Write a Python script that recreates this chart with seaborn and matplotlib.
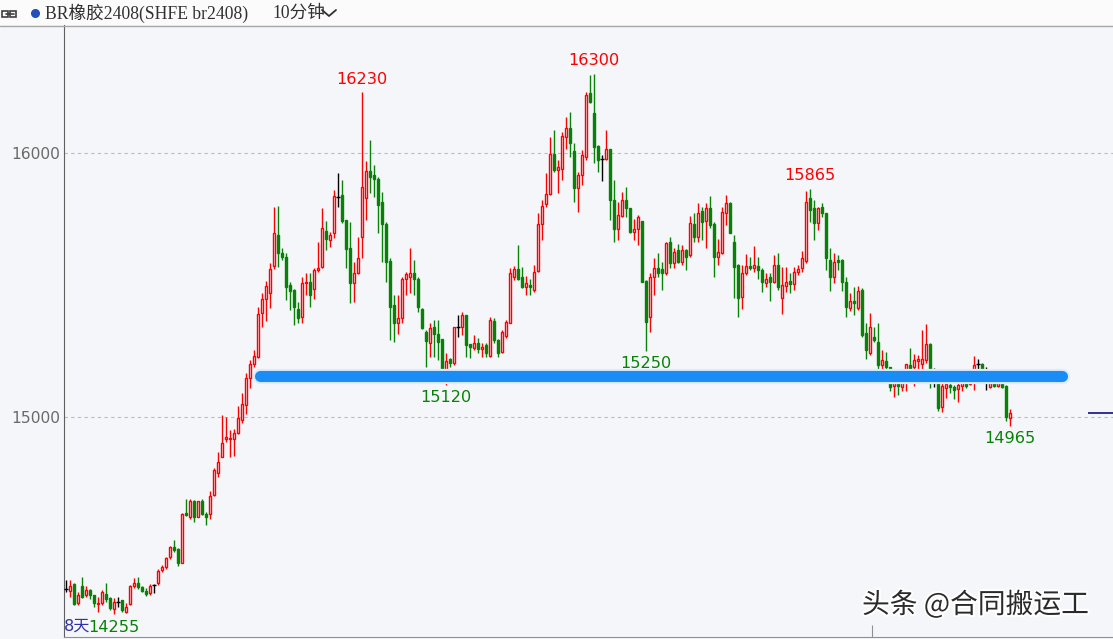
import numpy as np
import pandas as pd
import matplotlib.pyplot as plt
import matplotlib.patheffects as pe
from matplotlib.patches import Rectangle, FancyBboxPatch
from matplotlib.lines import Line2D
import seaborn as sns

# 10-minute candles, BR rubber 2408
opens = [14350, 14342, 14367, 14295, 14358, 14326, 14345, 14326, 14292, 14295,
         14330, 14313, 14272, 14300, 14307, 14263, 14292, 14358, 14373, 14355,
         14341, 14335, 14364, 14370, 14421, 14431, 14469, 14507, 14499, 14448,
         14638, 14620, 14683, 14623, 14683, 14633, 14633, 14705, 14789, 14850,
         14916, 14916, 14918, 14938, 14989, 15046, 15147, 15201, 15228, 15395,
         15446, 15468, 15572, 15688, 15622, 15607, 15500, 15481, 15408, 15380,
         15506, 15513, 15484, 15557, 15569, 15706, 15670, 15696, 15834, 15841,
         15746, 15639, 15506, 15547, 15680, 15828, 15933, 15917, 15900, 15816,
         15731, 15592, 15424, 15357, 15374, 15524, 15531, 15547, 15521, 15408,
         15323, 15279, 15340, 15314, 15294, 15171, 15218, 15203, 15340, 15342,
         15386, 15276, 15260, 15281, 15256, 15272, 15231, 15365, 15291, 15247,
         15307, 15357, 15529, 15559, 15531, 15491, 15500, 15481, 15554, 15731,
         15807, 15844, 15998, 15935, 15938, 16062, 16093, 16009, 15866, 15916,
         15986, 16226, 16150, 16026, 15976, 15976, 16014, 15822, 15714, 15761,
         15822, 15790, 15702, 15711, 15742, 15516, 15380, 15531, 15563, 15559,
         15544, 15664, 15585, 15633, 15588, 15633, 15614, 15731, 15683, 15782,
         15744, 15790, 15731, 15607, 15622, 15774, 15812, 15664, 15576, 15453,
         15544, 15572, 15563, 15572, 15557, 15506, 15529, 15513, 15576, 15450,
         15496, 15516, 15504, 15550, 15563, 15592, 15828, 15790, 15734, 15794,
         15771, 15595, 15532, 15595, 15595, 15513, 15412, 15441, 15412, 15481,
         15317, 15241, 15302, 15285, 15197, 15213, 15188, 15117, 15134, 15115,
         15134, 15197, 15191, 15213, 15201, 15216, 15277, 15166, 15153, 15039,
         15109, 15121, 15112, 15105, 15117, 15134, 15125, 15172, 15201, 15201,
         15165, 15115, 15138, 15117, 15138, 15117, 14995]
highs = [14383, 14383, 14370, 14339, 14393, 14358, 14348, 14326, 14320, 14345,
         14373, 14320, 14313, 14320, 14307, 14295, 14364, 14389, 14393, 14360,
         14351, 14367, 14368, 14423, 14440, 14471, 14512, 14534, 14503, 14638,
         14688, 14688, 14686, 14683, 14688, 14642, 14718, 14806, 14869, 15008,
         14999, 14951, 14954, 15042, 15090, 15166, 15216, 15254, 15418, 15471,
         15516, 15582, 15797, 15799, 15639, 15620, 15513, 15484, 15437, 15531,
         15544, 15547, 15563, 15664, 15790, 15744, 15702, 15860, 15925, 15898,
         15746, 15740, 15588, 15680, 16230, 15971, 16049, 15954, 15910, 15853,
         15740, 15601, 15462, 15462, 15531, 15550, 15639, 15595, 15531, 15412,
         15329, 15355, 15367, 15367, 15294, 15244, 15222, 15342, 15386, 15399,
         15388, 15278, 15310, 15298, 15279, 15279, 15377, 15374, 15294, 15329,
         15367, 15563, 15572, 15651, 15569, 15534, 15521, 15575, 15771, 15822,
         15923, 16062, 16087, 15973, 16081, 16137, 16156, 16036, 15929, 16011,
         16232, 16295, 16300, 16030, 15992, 16089, 16014, 15897, 15815, 15853,
         15870, 15790, 15749, 15765, 15742, 15519, 15544, 15601, 15620, 15588,
         15664, 15683, 15639, 15655, 15652, 15635, 15761, 15771, 15809, 15797,
         15809, 15837, 15740, 15673, 15797, 15841, 15816, 15689, 15580, 15576,
         15617, 15607, 15648, 15607, 15563, 15544, 15544, 15614, 15620, 15569,
         15569, 15544, 15569, 15576, 15630, 15857, 15865, 15822, 15797, 15812,
         15774, 15639, 15620, 15614, 15597, 15529, 15468, 15494, 15496, 15487,
         15355, 15393, 15342, 15355, 15254, 15247, 15191, 15172, 15153, 15172,
         15201, 15260, 15239, 15235, 15329, 15352, 15279, 15184, 15155, 15128,
         15138, 15146, 15121, 15140, 15146, 15140, 15153, 15231, 15218, 15203,
         15191, 15146, 15143, 15146, 15175, 15120, 15029]
lows = [14339, 14320, 14288, 14288, 14313, 14320, 14310, 14282, 14263, 14288,
        14301, 14269, 14255, 14282, 14263, 14258, 14288, 14351, 14348, 14339,
        14322, 14326, 14335, 14364, 14414, 14423, 14461, 14490, 14436, 14446,
        14625, 14615, 14604, 14620, 14629, 14591, 14615, 14701, 14774, 14847,
        14907, 14850, 14852, 14936, 14976, 15012, 15109, 15188, 15222, 15342,
        15365, 15412, 15559, 15569, 15595, 15443, 15405, 15348, 15355, 15355,
        15462, 15418, 15446, 15550, 15563, 15632, 15645, 15677, 15797, 15733,
        15563, 15433, 15437, 15542, 15601, 15746, 15847, 15834, 15696, 15588,
        15513, 15292, 15285, 15314, 15355, 15462, 15468, 15462, 15399, 15332,
        15188, 15228, 15226, 15216, 15140, 15120, 15190, 15197, 15304, 15310,
        15228, 15222, 15254, 15241, 15228, 15226, 15228, 15281, 15228, 15241,
        15298, 15355, 15519, 15519, 15487, 15462, 15462, 15475, 15550, 15670,
        15797, 15841, 15929, 15847, 15897, 16017, 15986, 15815, 15778, 15879,
        15973, 16188, 15961, 15929, 15895, 15973, 15746, 15664, 15670, 15759,
        15759, 15696, 15670, 15651, 15512, 15250, 15323, 15462, 15531, 15481,
        15538, 15563, 15563, 15582, 15576, 15557, 15607, 15664, 15664, 15670,
        15639, 15715, 15532, 15576, 15617, 15727, 15696, 15450, 15380, 15408,
        15538, 15557, 15550, 15521, 15475, 15494, 15441, 15509, 15481, 15390,
        15475, 15471, 15481, 15538, 15550, 15585, 15740, 15670, 15708, 15759,
        15557, 15479, 15509, 15557, 15479, 15380, 15403, 15386, 15405, 15304,
        15218, 15235, 15285, 15178, 15176, 15172, 15100, 15077, 15083, 15100,
        15100, 15159, 15117, 15159, 15178, 15203, 15109, 15115, 15024, 15020,
        15071, 15090, 15067, 15058, 15100, 15109, 15121, 15102, 15178, 15128,
        15102, 15109, 15115, 15115, 15110, 14985, 14965]
closes = [14350, 14358, 14292, 14326, 14320, 14345, 14326, 14295, 14295, 14336,
          14310, 14276, 14301, 14300, 14269, 14282, 14358, 14373, 14355, 14342,
          14328, 14360, 14364, 14418, 14431, 14465, 14507, 14497, 14448, 14633,
          14630, 14683, 14623, 14681, 14633, 14623, 14701, 14800, 14829, 14903,
          14923, 14919, 14938, 14995, 15050, 15147, 15201, 15231, 15389, 15446,
          15496, 15559, 15696, 15622, 15607, 15494, 15478, 15418, 15374, 15506,
          15509, 15462, 15557, 15566, 15715, 15673, 15688, 15837, 15834, 15744,
          15635, 15506, 15547, 15601, 15872, 15933, 15910, 15900, 15803, 15731,
          15588, 15418, 15357, 15374, 15521, 15542, 15547, 15521, 15415, 15336,
          15289, 15336, 15314, 15285, 15165, 15213, 15203, 15340, 15340, 15386,
          15273, 15264, 15281, 15256, 15266, 15241, 15367, 15291, 15243, 15323,
          15361, 15544, 15559, 15521, 15491, 15509, 15491, 15550, 15731, 15799,
          15844, 15996, 15935, 15948, 16064, 16093, 16036, 15866, 15916, 15992,
          16219, 16194, 16024, 15973, 15976, 16014, 15822, 15714, 15765, 15822,
          15790, 15702, 15714, 15759, 15512, 15361, 15531, 15563, 15547, 15544,
          15660, 15585, 15626, 15588, 15633, 15607, 15734, 15683, 15774, 15740,
          15790, 15727, 15607, 15626, 15778, 15809, 15698, 15569, 15450, 15544,
          15572, 15563, 15576, 15557, 15513, 15524, 15513, 15576, 15491, 15500,
          15513, 15504, 15551, 15559, 15601, 15816, 15784, 15734, 15790, 15771,
          15601, 15532, 15588, 15588, 15513, 15418, 15441, 15433, 15479, 15311,
          15254, 15342, 15292, 15197, 15216, 15188, 15115, 15134, 15117, 15140,
          15201, 15165, 15216, 15218, 15218, 15277, 15172, 15166, 15033, 15117,
          15125, 15112, 15102, 15121, 15134, 15117, 15138, 15197, 15201, 15172,
          15165, 15138, 15117, 15138, 15115, 15001, 15016]

# marked extremes: candle index, value, above (True) / below
mark_idx = [74, 132, 186, 95, 145, 236, 12]
mark_val = [16230, 16300, 15865, 15120, 15250, 14965, 14255]
mark_top = [True, True, True, False, False, False, False]

support_level = 15155
support_from, support_to = 48.6, 249.1
ytick_vals = [15000, 16000]
ytick_labels = ["15000", "16000"]

title_text = "BR橡胶2408(SHFE br2408)"
period_text = "10分钟"
watermark = "头条 @合同搬运工"

BG = "#F5F6FA"
RED = "#FF0000"
GREEN = "#078207"
W, H = 1113, 639

df = pd.DataFrame({"open": opens, "high": highs, "low": lows, "close": closes})
df["x"] = np.arange(len(df))

sns.set_style("white")
plt.rcParams["font.family"] = ["DejaVu Sans", "Noto Sans CJK SC"]

fig = plt.figure(figsize=(W / 100, H / 100), dpi=100, facecolor=BG)
ax = fig.add_axes([64 / W, 2 / H, (W - 64) / W, (637 - 25) / H])
ax.set_facecolor(BG)

ppu = 1000 / 264  # price units per pixel
ax.set_xlim(-0.5, -0.5 + (W - 64) / 4)
ax.set_ylim(15000 - 220 * ppu, 15000 + 392 * ppu)

# grid lines
for v in ytick_vals:
    ax.axhline(v, color="#BDBDBD", lw=0.8, ls=(0, (3, 3)), zorder=1)

up = df[df.close > df.open]
dn = df[df.close < df.open]
dj = df[df.close == df.open]

ax.vlines(up.x, up.low, up.high, color=RED, lw=1, zorder=2)
ax.vlines(dn.x, dn.low, dn.high, color=GREEN, lw=1, zorder=2)
ax.vlines(dj.x, dj.low, dj.high, color="black", lw=1, zorder=2)

ax.bar(up.x, np.maximum(up.close - up.open, 4), bottom=up.open, width=0.62,
       facecolor=BG, edgecolor=RED, lw=1, zorder=3)
ax.bar(dn.x, np.maximum(dn.open - dn.close, 4), bottom=dn.close, width=0.7,
       facecolor=GREEN, edgecolor=GREEN, lw=1, zorder=3)
ax.hlines(dj.open, dj.x - 0.4, dj.x + 0.4, color="black", lw=1, zorder=3)

# support line
sl = sns.lineplot(x=[support_from, support_to], y=[support_level, support_level],
                  ax=ax, color="#1A8CF5", lw=8, solid_capstyle="round", zorder=5)
sl.lines[-1].set_path_effects([pe.Stroke(linewidth=11, foreground="#DDEBFA"), pe.Normal()])

# extreme labels
for i, v, top in zip(mark_idx, mark_val, mark_top):
    y = v + 13 * ppu if top else v - 12 * ppu
    if v == 14255:
        y = v - 14 * ppu
    ax.text(i, y, str(v), color=RED if top else GREEN, fontsize=11.6,
            ha="center", va="center", zorder=6)
ax.text(6, 14255 - 12 * ppu, "8天", color="#3030A8", fontsize=11.6,
        ha="right", va="center", zorder=6)

# last price marker on the right
ax.hlines(closes[-1], 255.5, ax.get_xlim()[1], color="#101080", lw=1.2, zorder=4)
ax.vlines(201.5, ax.get_ylim()[0], 15000 - 208 * ppu, color="#909090", lw=0.8, zorder=4)

ax.set_yticks(ytick_vals)
ax.set_yticklabels(ytick_labels, color="#6A6A6A", fontsize=11.2)
ax.set_xticks([])
ax.tick_params(axis="y", length=0, pad=3)
for s in ["top", "right"]:
    ax.spines[s].set_visible(False)
ax.spines["left"].set_color("#606060")
ax.spines["bottom"].set_color("#909090")

# header bar
fig.add_artist(Rectangle((0, (H - 25) / H), 1, 25 / H, transform=fig.transFigure,
                         facecolor="#FBFBFC", edgecolor="none", zorder=0))
fig.add_artist(Line2D([0, 1], [(H - 25.5) / H] * 2, transform=fig.transFigure,
                      color="#A8A8A8", lw=1))
for x0 in (2, 10):
    fig.add_artist(FancyBboxPatch((x0 / W, (H - 17) / H), 6 / W, 6 / H,
                                  boxstyle="square,pad=0", transform=fig.transFigure,
                                  facecolor="none", edgecolor="#404040", lw=1.2))
fig.add_artist(Line2D([6 / W, 14 / W], [(H - 14) / H] * 2, transform=fig.transFigure,
                      color="#404040", lw=1.2))
fig.add_artist(Line2D([35 / W], [(H - 13) / H], transform=fig.transFigure, marker="o",
                      ms=5.5, color="#2050B8"))
fig.text(45 / W, (H - 13.5) / H, title_text, fontsize=12.7, color="#303030",
         family=["Liberation Serif", "Noto Sans CJK SC"], va="center", ha="left")
fig.text(272 / W, (H - 13.5) / H, period_text, fontsize=12.7, color="#303030",
         family=["Liberation Serif", "Noto Sans CJK SC"], va="center", ha="left")
fig.add_artist(Line2D([322 / W, 329 / W, 336 / W], [(H - 10) / H, (H - 16) / H, (H - 10) / H],
                      transform=fig.transFigure, color="#303030", lw=1.3))

# watermark
fig.text(862 / W, (H - 605) / H, watermark, fontsize=20, color="#2A2A2A",
         family=["Noto Sans CJK SC", "DejaVu Sans"], va="center", ha="left",
         path_effects=[pe.withStroke(linewidth=3, foreground="white")])

fig.savefig("out.png", dpi=100, facecolor=BG)
